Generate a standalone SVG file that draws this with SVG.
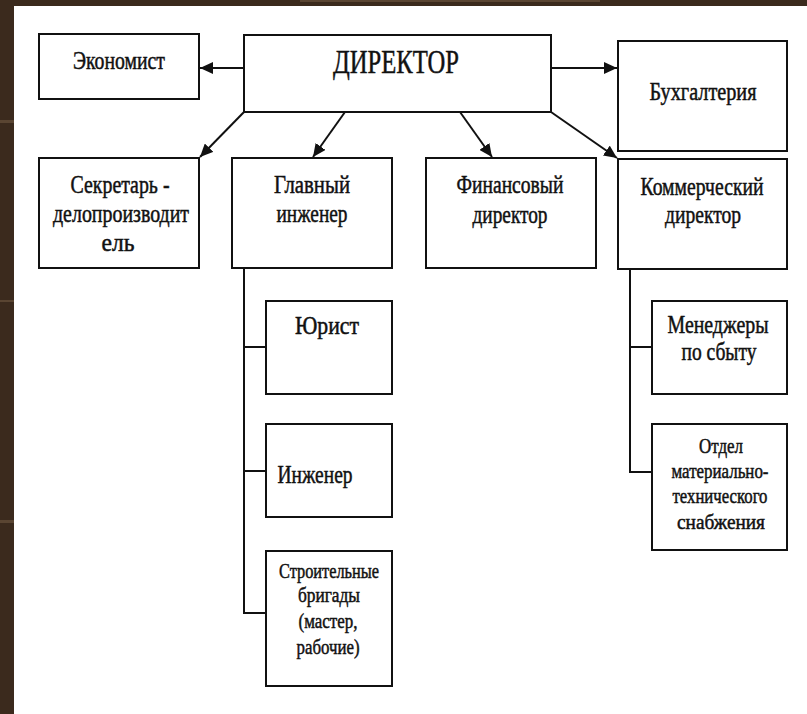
<svg xmlns="http://www.w3.org/2000/svg" width="807" height="714" viewBox="0 0 807 714">
<style>
.box{fill:#fff;stroke:#111;stroke-width:2}
.ln{fill:none;stroke:#111;stroke-width:2}
</style>
<defs>
<marker id="ah" markerUnits="userSpaceOnUse" markerWidth="14" markerHeight="12" refX="13" refY="6" orient="auto">
<path d="M0,0 L13,6 L0,12 Z" fill="#111"/>
</marker>
</defs>
<rect x="0" y="0" width="807" height="714" fill="#fff"/>
<g id="border">
<rect x="0" y="0" width="14" height="714" fill="#3b2a1d"/>
<rect x="0" y="0" width="807" height="6" fill="#3b2a1d"/>
<rect x="0" y="120" width="14" height="3" fill="#5a4532"/>
<rect x="0" y="300" width="14" height="2" fill="#5a4532"/>
<rect x="0" y="520" width="14" height="3" fill="#5a4532"/>
<rect x="300" y="0" width="300" height="2" fill="#5a4532"/>
</g>
<g id="connectors">
<line class="ln" x1="244" y1="68" x2="200" y2="68" marker-end="url(#ah)"/>
<line class="ln" x1="551" y1="68" x2="617" y2="68" marker-end="url(#ah)"/>
<line class="ln" x1="244" y1="112" x2="200" y2="157" marker-end="url(#ah)"/>
<line class="ln" x1="345" y1="112" x2="313" y2="157" marker-end="url(#ah)"/>
<line class="ln" x1="460" y1="112" x2="492" y2="157" marker-end="url(#ah)"/>
<line class="ln" x1="551" y1="112" x2="617" y2="158" marker-end="url(#ah)"/>
<polyline class="ln" points="244,268 244,613 266,613"/>
<line class="ln" x1="244" y1="347" x2="266" y2="347"/>
<line class="ln" x1="244" y1="471" x2="266" y2="471"/>
<polyline class="ln" points="630,269 630,472 652,472"/>
<line class="ln" x1="630" y1="347" x2="652" y2="347"/>
</g>
<g font-family="Liberation Serif, Times New Roman, serif" fill="#111" stroke="#111" stroke-width="0.5" text-anchor="middle" font-size="25">
<g id="director">
<rect class="box" x="244" y="35" width="307" height="77"/>
<text font-size="34" x="396" y="73" textLength="126" lengthAdjust="spacingAndGlyphs">ДИРЕКТОР</text>
</g>
<g id="economist">
<rect class="box" x="39" y="34" width="160" height="65"/>
<text x="119" y="69" textLength="92" lengthAdjust="spacingAndGlyphs">Экономист</text>
</g>
<g id="accounting">
<rect class="box" x="618" y="41" width="169" height="110"/>
<text x="703" y="100" textLength="107" lengthAdjust="spacingAndGlyphs">Бухгалтерия</text>
</g>
<g id="secretary">
<rect class="box" x="39" y="158" width="160" height="110"/>
<text x="120" y="193" textLength="99" lengthAdjust="spacingAndGlyphs">Секретарь -</text>
<text x="121" y="222" textLength="136" lengthAdjust="spacingAndGlyphs">делопроизводит</text>
<text x="118" y="251" textLength="33" lengthAdjust="spacingAndGlyphs">ель</text>
</g>
<g id="chief-engineer">
<rect class="box" x="232" y="158" width="160" height="110"/>
<text x="312" y="193" textLength="76" lengthAdjust="spacingAndGlyphs">Главный</text>
<text x="312" y="222" textLength="71" lengthAdjust="spacingAndGlyphs">инженер</text>
</g>
<g id="finance-director">
<rect class="box" x="426" y="158" width="170" height="110"/>
<text x="510" y="193" textLength="107" lengthAdjust="spacingAndGlyphs">Финансовый</text>
<text x="510" y="223" textLength="75" lengthAdjust="spacingAndGlyphs">директор</text>
</g>
<g id="commercial-director">
<rect class="box" x="618" y="159" width="169" height="110"/>
<text x="702" y="195" textLength="123" lengthAdjust="spacingAndGlyphs">Коммерческий</text>
<text x="703" y="223" textLength="76" lengthAdjust="spacingAndGlyphs">директор</text>
</g>
<g id="lawyer">
<rect class="box" x="266" y="301" width="126" height="93"/>
<text x="327" y="334" textLength="64" lengthAdjust="spacingAndGlyphs">Юрист</text>
</g>
<g id="engineer">
<rect class="box" x="266" y="424" width="126" height="93"/>
<text x="315" y="483" textLength="75" lengthAdjust="spacingAndGlyphs">Инженер</text>
</g>
<g id="brigades" font-size="21">
<rect class="box" x="266" y="551" width="126" height="135"/>
<text x="329" y="578" textLength="100" lengthAdjust="spacingAndGlyphs">Строительные</text>
<text x="329" y="602" textLength="62" lengthAdjust="spacingAndGlyphs">бригады</text>
<text x="328" y="628" textLength="59" lengthAdjust="spacingAndGlyphs">(мастер,</text>
<text x="328" y="654" textLength="63" lengthAdjust="spacingAndGlyphs">рабочие)</text>
</g>
<g id="sales-managers">
<rect class="box" x="652" y="301" width="135" height="93"/>
<text x="718" y="333" textLength="101" lengthAdjust="spacingAndGlyphs">Менеджеры</text>
<text x="719" y="360" textLength="75" lengthAdjust="spacingAndGlyphs">по сбыту</text>
</g>
<g id="supply-dept" font-size="21">
<rect class="box" x="652" y="424" width="135" height="126"/>
<text x="721" y="453" textLength="44" lengthAdjust="spacingAndGlyphs">Отдел</text>
<text x="720" y="478" textLength="97" lengthAdjust="spacingAndGlyphs">материально-</text>
<text x="720" y="503" textLength="95" lengthAdjust="spacingAndGlyphs">технического</text>
<text x="721" y="529" textLength="88" lengthAdjust="spacingAndGlyphs">снабжения</text>
</g>
</g>
</svg>
